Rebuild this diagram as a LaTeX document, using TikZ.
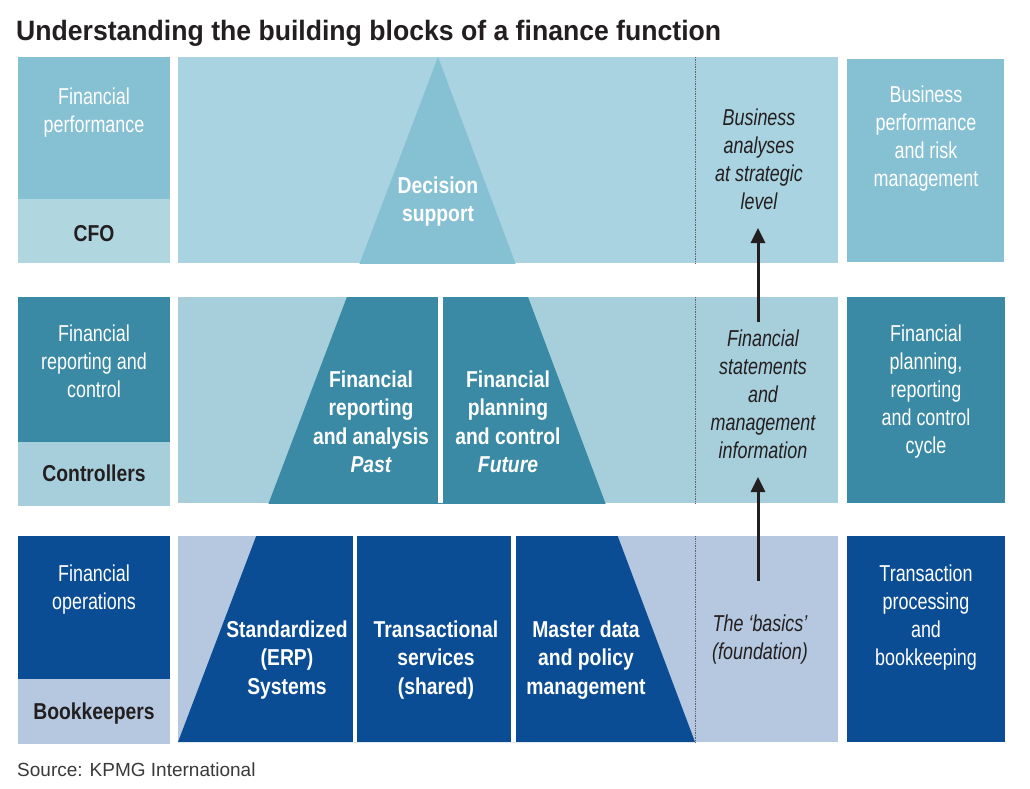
\documentclass[tikz,border=0pt]{standalone}
\usepackage{fontspec}
\setmainfont{Liberation Sans}
\newfontfamily\cnr{Liberation Sans}[FakeStretch=0.78]
\newfontfamily\cnb{Liberation Sans}[FakeStretch=0.84]
\newfontfamily\ttlf{Liberation Sans}[FakeStretch=0.95]
\usetikzlibrary{arrows.meta}
\definecolor{ink}{HTML}{231F20}
\definecolor{srcgray}{HTML}{3A3A3A}
\definecolor{aMid}{HTML}{86C0D3}
\definecolor{aLight}{HTML}{A9D3E0}
\definecolor{aRole}{HTML}{B0D6DF}
\definecolor{bDark}{HTML}{3A8AA5}
\definecolor{bLight}{HTML}{A7CFDB}
\definecolor{cDark}{HTML}{0B4D94}
\definecolor{cLight}{HTML}{B5C8DF}
\tikzset{
  txt/.style={inner sep=0pt, align=center, anchor=north, yshift=-2pt, execute at begin node=\strut},
  regw/.style={txt, font=\cnr\fontsize{23}{28}\selectfont, text=white},
  ital/.style={txt, font=\cnr\itshape\fontsize{23}{28}\selectfont, text=ink},
  boldw/.style={txt, font=\cnb\bfseries\fontsize{23}{28.5}\selectfont, text=white},
  role/.style={txt, font=\cnb\bfseries\fontsize{23}{28}\selectfont, text=ink},
  divider/.style={draw=ink!70, densely dotted, line width=0.7pt},
  uparrow/.style={draw=ink, line width=3pt, -{Triangle[length=15pt,width=14pt]}},
}
\begin{document}
\begin{tikzpicture}[x=1pt,y=-1pt]
\useasboundingbox (0,0) rectangle (1030,788);
\fill[white] (0,0) rectangle (1030,788);

% title
\node[anchor=base west, inner sep=0pt, font=\ttlf\bfseries\fontsize{28}{32}\selectfont, text=ink] (title) at (16,40) {Understanding the building blocks of a finance function};

% ---------- row 1 ----------
\fill[aMid] (18,57) rectangle (170,199);
\fill[aRole] (18,199) rectangle (170,263);
\fill[aLight] (178,57) rectangle (838,263);
\begin{scope}
  \clip (178,57) rectangle (838,263);
  \fill[aMid] (438,57) -- (695,742) -- (178,742) -- cycle;
\end{scope}
\fill[aMid] (847,59) rectangle (1004,262);
\draw[divider] (695,57) -- (695,263);

% ---------- row 2 ----------
\fill[bDark] (18,297) rectangle (170,442);
\fill[bLight] (18,442) rectangle (170,506);
\fill[bLight] (178,297) rectangle (838,503);
\begin{scope}
  \clip (178,297) rectangle (838,503);
  \fill[bDark] (438,57) -- (695,742) -- (178,742) -- cycle;
  \fill[white] (438,297) rectangle (443,503);
\end{scope}
\fill[bDark] (847,297) rectangle (1005,503);
\draw[divider] (695,297) -- (695,503);

% ---------- row 3 ----------
\fill[cDark] (18,536) rectangle (170,679);
\fill[cLight] (18,679) rectangle (170,744);
\fill[cLight] (178,536) rectangle (838,742);
\begin{scope}
  \clip (178,536) rectangle (838,742);
  \fill[cDark] (438,57) -- (695,742) -- (178,742) -- cycle;
  \fill[white] (353,536) rectangle (357,742);
  \fill[white] (511,536) rectangle (516,742);
\end{scope}
\fill[cDark] (847,536) rectangle (1005,742);
\draw[divider] (695,536) -- (695,742);

% ---------- texts row 1 ----------
\node[regw] (fperf) at (94,85.4) {Financial\\performance};
\node[role] (cfo) at (94,219.4) {CFO};
\node[boldw, font=\cnb\bfseries\fontsize{23}{28}\selectfont] (dec) at (438,174.4) {Decision\\support};
\node[ital] (bas) at (759,106.4) {Business\\analyses\\at strategic\\level};
\node[regw] (bprm) at (926,83.4) {Business\\performance\\and risk\\management};

% ---------- texts row 2 ----------
\node[regw] (frc) at (94,322.4) {Financial\\reporting and\\control};
\node[role] (ctrl) at (94,459.4) {Controllers};
\node[boldw] (fra) at (371,368.4) {Financial\\reporting\\and analysis\\\itshape Past};
\node[boldw] (fpc) at (508,368.4) {Financial\\planning\\and control\\\itshape Future};
\node[ital] (fsm) at (763,327.4) {Financial\\statements\\and\\management\\information};
\node[regw] (fprc) at (926,322.4) {Financial\\planning,\\reporting\\and control\\cycle};

% ---------- texts row 3 ----------
\node[regw] (fops) at (94,562.4) {Financial\\operations};
\node[role] (bk) at (94,697.4) {Bookkeepers};
\node[boldw] (erp) at (287,618.4) {Standardized\\(ERP)\\Systems};
\node[boldw] (tss) at (436,618.4) {Transactional\\services\\(shared)};
\node[boldw] (mdp) at (586,618.4) {Master data\\and policy\\management};
\node[ital] (basics) at (760,612.4) {The ‘basics’\\(foundation)};
\node[regw] (tpb) at (926,562.4) {Transaction\\processing\\and\\bookkeeping};

% arrows
\coordinate (a1s) at (758,322);
\coordinate (a1e) at (758,228);
\coordinate (a2s) at (758,581);
\coordinate (a2e) at (758,477);
\draw[uparrow] (a1s) -- (a1e);
\draw[uparrow] (a2s) -- (a2e);

% source
\node[anchor=base west, inner sep=0pt, font=\fontsize{19}{23}\selectfont, text=srcgray] (src) at (17,776) {Source: KPMG International};
\end{tikzpicture}
\end{document}
